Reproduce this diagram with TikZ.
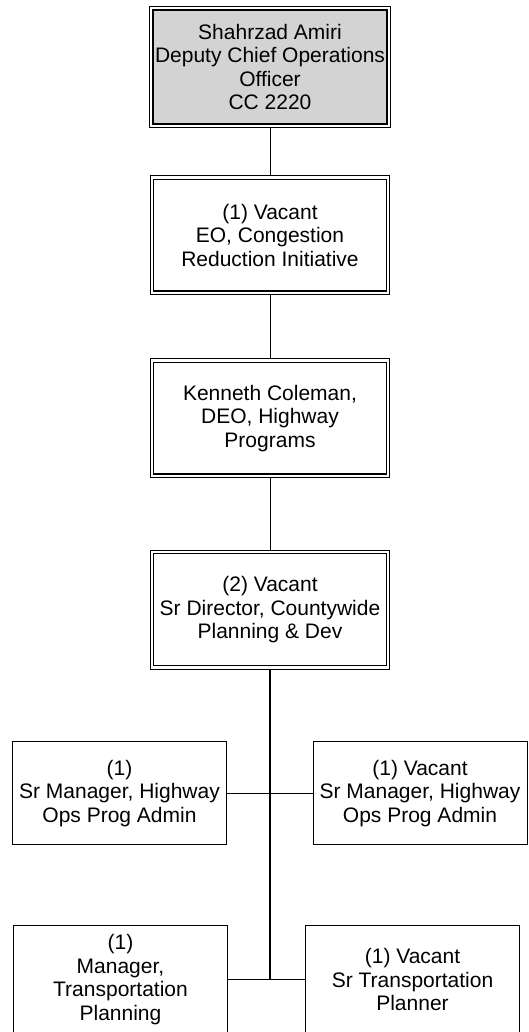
\documentclass[tikz,border=0pt]{standalone}
\usepackage{fontspec}
\setmainfont{Liberation Sans}
\usepackage{xcolor}
\usepackage{tikz}
\usetikzlibrary{positioning}
\definecolor{boxgray}{RGB}{211,211,211}

\begin{document}
\begin{tikzpicture}[
  x=1pt, y=1pt,
  post/.style={draw, line width=1.1pt, outer sep=3.9pt, align=center, inner sep=2pt, minimum width=232.5pt, minimum height=111.7pt},
  frame/.style={draw, line width=0.8pt},
  sub/.style={draw, line width=0.9pt, align=center, inner sep=2pt, minimum width=214pt, minimum height=103pt},
  link/.style={line width=0.9pt},
  trunk/.style={line width=1.6pt},
  font=\fontsize{21}{23.5}\selectfont,
]
\useasboundingbox (0,0) rectangle (529,-1032);
\node[post, fill=boxgray, minimum width=234pt, minimum height=114pt] (dcoo) at (270,-67) {Shahrzad Amiri\\Deputy Chief Operations\\Officer\\CC 2220};
\node[post, below=47.5pt of dcoo] (croi) {(1) Vacant\\EO, Congestion\\Reduction Initiative};
\node[post, below=63.5pt of croi] (hwy) {Kenneth Coleman,\\DEO, Highway\\Programs};
\node[post, below=72pt of hwy] (cpd) {(2) Vacant\\Sr Director, Countywide\\Planning \& Dev};
\node[sub, below=72pt of cpd, xshift=-150.5pt] (hopA) {(1)\\Sr Manager, Highway\\Ops Prog Admin};
\node[sub, below=72pt of cpd, xshift=150pt] (hopB) {(1) Vacant\\Sr Manager, Highway\\Ops Prog Admin};
\node[sub, minimum height=108pt, below=80pt of hopA, xshift=1pt] (mtp) {(1)\\Manager,\\Transportation\\Planning};
\node[sub, minimum height=108pt, below=80pt of hopB, xshift=-7.5pt] (stp) {(1) Vacant\\Sr Transportation\\Planner};
% outer frames of the double boxes
\foreach \n in {dcoo,croi,hwy,cpd}
  \draw[frame] ([shift={(0.4,-0.4)}]\n.north west) rectangle ([shift={(-0.4,0.4)}]\n.south east);
\coordinate (jB) at (cpd.south |- mtp.east);
\draw[link] (dcoo) -- (croi);
\draw[link] (croi) -- (hwy);
\draw[link] (hwy) -- (cpd);
\draw[trunk] (cpd) -- (jB);
\draw[link] (hopA) -- (hopB);
\draw[link] (mtp) -- (stp);
\end{tikzpicture}
\end{document}
